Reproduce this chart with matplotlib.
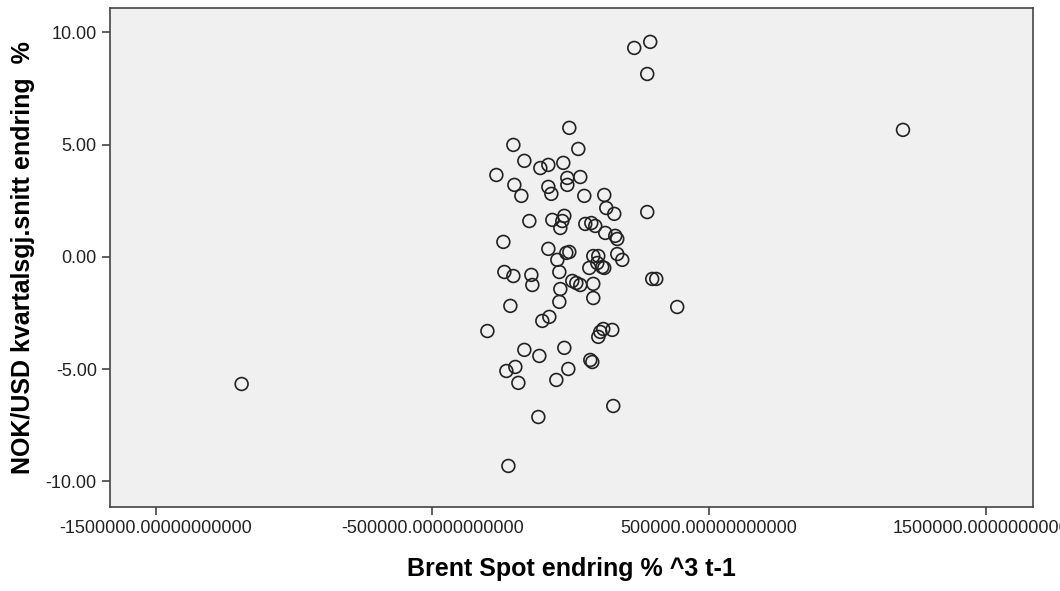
import matplotlib
matplotlib.use("Agg")
import matplotlib.pyplot as plt
from matplotlib.ticker import FormatStrFormatter

# Brent Spot endring % ^3 t-1 (x) vs NOK/USD kvartalsgj.snitt endring % (y)
brent = [-1189500, 1200300, 229200, 287000, 276200, -5400, -207600, 27100,
         -167900, -81200, -110100, -27100, -269000, -12600, 34300, -204000,
         -12600, -81200, -178700, -70400, 48700, 120900, 128200, 157000,
         276200, -149800, -66800, -23500, -30700, 52300, 74000, 88400,
         -37900, 124500, 160600, 167900, -243700, -81200, -16200, -5400,
         -48700, 81200, 99300, 95700, 167900, 185900, 66800, 113700,
         120900, -240100, -207600, -142600, -41500, -139000, 5400, 19900,
         34300, 81200, -37900, 294200, 308700, -218400, 384500, -41500,
         81200, -77600, -102900, -301400, 106500, 117300, 149800, 99300,
         -167900, -23500, -113700, 70400, 77600, -200400, -232800, -9000,
         -52300, -189500, -117300, 153400, -225600]
nok = [-5.66, 5.66, 9.31, 9.58, 8.15, 5.75, 4.99, 4.81,
       4.28, 4.10, 3.96, 4.19, 3.65, 3.52, 3.56, 3.21,
       3.21, 3.12, 2.72, 2.81, 2.72, 2.76, 2.18, 1.92,
       2.00, 1.60, 1.65, 1.83, 1.60, 1.47, 1.51, 1.38,
       1.29, 1.07, 0.94, 0.80, 0.67, 0.36, 0.18, 0.22,
       -0.13, 0.04, 0.04, -0.27, 0.13, -0.13, -0.49, -0.45,
       -0.49, -0.67, -0.85, -0.80, -0.67, -1.25, -1.07, -1.16,
       -1.25, -1.20, -1.43, -0.98, -0.98, -2.18, -2.23, -2.00,
       -1.83, -2.67, -2.85, -3.30, -3.34, -3.21, -3.25, -3.56,
       -4.14, -4.05, -4.41, -4.59, -4.68, -4.90, -5.08, -4.99,
       -5.48, -5.61, -7.13, -6.64, -9.31]

xticks = [-1500000, -500000, 500000, 1500000]
yticks = [-10, -5, 0, 5, 10]

plt.rcParams['font.family'] = ['Liberation Sans', 'DejaVu Sans']

fig = plt.figure(figsize=(10.6, 5.91), dpi=100)
ax = fig.add_axes([0.1038, 0.1421, 0.8707, 0.8444])
ax.set_facecolor("#f0f0f0")
ax.scatter(brent, nok, s=85, facecolors="none", edgecolors="#222222", linewidths=1.2, zorder=3)

ax.set_xlim(-1665000, 1670000)
ax.set_ylim(-11.14, 11.09)
ax.set_xticks(xticks)
ax.set_yticks(yticks)
ax.xaxis.set_major_formatter(FormatStrFormatter("%.11f"))
ax.yaxis.set_major_formatter(FormatStrFormatter("%.2f"))
ax.tick_params(direction="out", length=6, width=1.2, color="#444444", labelsize=13, labelcolor="#222222")
for sp in ax.spines.values():
    sp.set_color("#444444")
    sp.set_linewidth(1.2)

ax.set_xlabel("Brent Spot endring % ^3 t-1", fontsize=18, fontweight="bold", labelpad=14)
ax.set_ylabel("NOK/USD kvartalsgj.snitt endring  %", fontsize=18, fontweight="bold", labelpad=8)

fig.savefig("out.png", dpi=100)
